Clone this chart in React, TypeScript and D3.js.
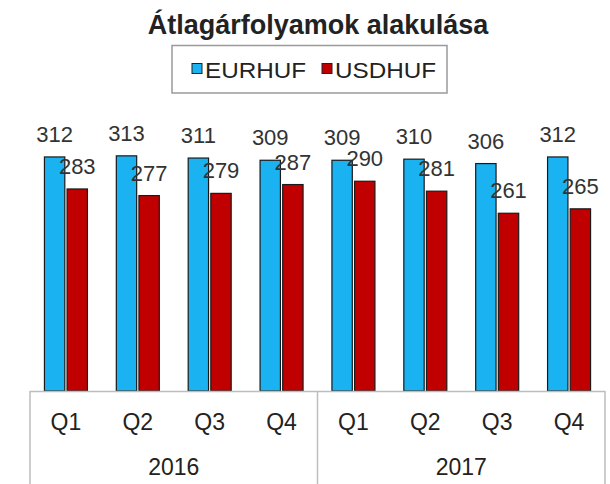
import React from "react";
import * as d3 from "d3";

const quarters = ["Q1", "Q2", "Q3", "Q4", "Q1", "Q2", "Q3", "Q4"];
const years = ["2016", "2017"];
const eurhuf = [312, 313, 311, 309, 309, 310, 306, 312];
const usdhuf = [283, 277, 279, 287, 290, 281, 261, 265];
const seriesNames = ["EURHUF", "USDHUF"];
const colors = ["#1AB2F0", "#C00000"];

const W = 610;
const H = 484;
const left = 30;
const right = 605;
const baseY = 391;
const topY = 115;

export default function App() {
  const idx = quarters.map((_, i) => i);
  const x = d3.scaleBand<number>().domain(idx).range([left, right]).paddingInner(0).paddingOuter(0);
  const y = d3.scaleLinear().domain([100, 350]).range([baseY, topY]);
  const sub = d3.scaleBand<number>().domain([0, 1]).range([0, 43]).paddingInner(0.1);
  const bw = x.bandwidth();
  const off = (bw - 43) / 2;
  const font = "Arial, 'Liberation Sans', sans-serif";
  const series = [eurhuf, usdhuf];
  const yearScale = d3.scaleBand<number>().domain([0, 1]).range([left, right]);

  return (
    <svg width={W} height={H} style={{ position: "absolute", left: 0, top: 0 }} fontFamily={font}>
      <rect width={W} height={H} fill="#fff" />
      <text x={318} y={34} textAnchor="middle" fontSize={27} fontWeight="bold" fill="#222">
        Átlagárfolyamok alakulása
      </text>
      <rect x={172} y={45.5} width={275} height={47.5} fill="none" stroke="#9a9a9a" strokeWidth={1.5} />
      {seriesNames.map((n, i) => {
        const lx = i === 0 ? 192 : 322;
        return (
          <g key={n}>
            <rect x={lx} y={63.5} width={10} height={10} fill={colors[i]} stroke="#222" strokeWidth={1} />
            <text x={lx + 13} y={78} fontSize={22} fill="#222" textLength={101} lengthAdjust="spacingAndGlyphs">
              {n}
            </text>
          </g>
        );
      })}
      {series.map((vals, s) =>
        vals.map((v, i) => {
          const bx = (x(i) as number) + off + (sub(s) as number);
          return (
            <g key={s + "-" + i}>
              <rect
                x={bx}
                y={y(v)}
                width={sub.bandwidth()}
                height={baseY - y(v)}
                fill={colors[s]}
                stroke="#1a1a1a"
                strokeWidth={1.2}
              />
            </g>
          );
        })
      )}
      {series.map((vals, s) =>
        vals.map((v, i) => {
          const bx = (x(i) as number) + off + (sub(s) as number) + sub.bandwidth() / 2;
          return (
            <text key={"l" + s + "-" + i} x={bx} y={y(v) - 15} textAnchor="middle" fontSize={22} fill="#333">
              {v}
            </text>
          );
        })
      )}
      <line x1={left} x2={right} y1={baseY + 0.5} y2={baseY + 0.5} stroke="#bdbdbd" strokeWidth={1.5} />
      {[left, (left + right) / 2, right].map((lx, i) => (
        <line key={i} x1={lx} x2={lx} y1={baseY} y2={H} stroke="#bdbdbd" strokeWidth={1.5} />
      ))}
      {quarters.map((q, i) => (
        <text key={"q" + i} x={(x(i) as number) + bw / 2} y={430} textAnchor="middle" fontSize={23} fill="#222">
          {q}
        </text>
      ))}
      {years.map((yr, i) => (
        <text key={yr} x={(yearScale(i) as number) + yearScale.bandwidth() / 2} y={475} textAnchor="middle" fontSize={23} fill="#222">
          {yr}
        </text>
      ))}
    </svg>
  );
}
